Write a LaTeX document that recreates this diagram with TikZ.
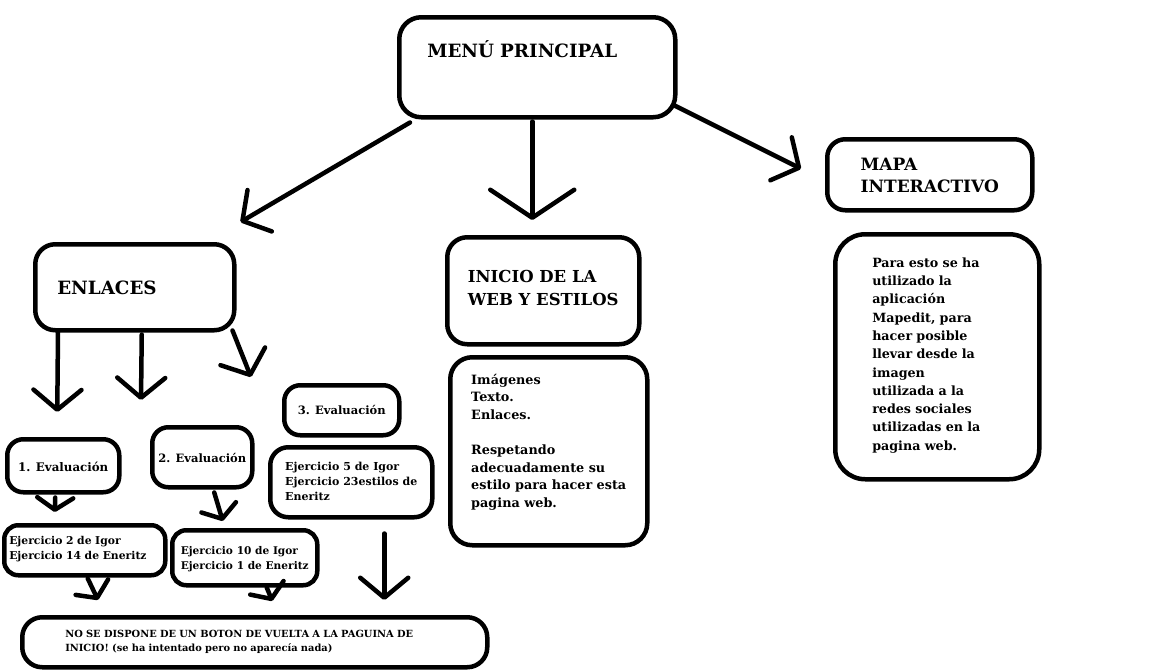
\documentclass[tikz,border=0pt]{standalone}
\usepackage{fontspec}
\setmainfont{DejaVu Serif}
\usetikzlibrary{arrows.meta}

\begin{document}
\begin{tikzpicture}[x=1pt, y=-1pt,
    caja/.style={draw, line width=4.5pt, rounded corners=16pt, inner sep=0pt, anchor=north west},
    flecha/.style={line width=4.5pt, line cap=round, -{Straight Barb[round, length=20pt, width=48pt]}},
    flechita/.style={line width=4.5pt, line cap=round, -{Straight Barb[round, length=12pt, width=36pt]}}]
    \useasboundingbox (0,0) rectangle (1154,672);
    \node[caja, rounded corners=22pt, text width=220pt, inner xsep=28pt, text height=40pt, text depth=60pt, font=\bfseries\fontsize{18.3}{23}\selectfont] (menu) at (397,15) {MENÚ PRINCIPAL};
    \node[caja, rounded corners=20pt, text width=155pt, inner xsep=22pt, text height=50pt, text depth=36pt, font=\bfseries\fontsize{18.3}{22}\selectfont] (enl) at (33,242) {ENLACES};
    \node[caja, rounded corners=20pt, minimum width=192pt, align=left, text height=68pt, text depth=39pt, font=\bfseries\fontsize{16.5}{23}\selectfont] (ini) at (445,235) {INICIO DE LA\\WEB Y ESTILOS};
    \node[caja, rounded corners=22pt, minimum width=197pt, align=left, text height=150pt, text depth=38pt, font=\bfseries\fontsize{12.8}{17.6}\selectfont] (inicont) at (448,355) {Imágenes\\Texto.\\Enlaces.\\[17.6pt]Respetando\\adecuadamente su\\estilo para hacer esta\\pagina web.};
    \node[caja, rounded corners=18pt, minimum width=205pt, align=left, text height=53pt, text depth=18pt, font=\bfseries\fontsize{17}{22}\selectfont] (mapa) at (825,137) {MAPA\\INTERACTIVO};
    \node[caja, rounded corners=30pt, text width=130pt, inner xsep=37pt, align=left, text height=33pt, text depth=212pt, font=\bfseries\fontsize{12.7}{18.3}\selectfont] (mapacont) at (833,232) {Para esto se ha\\utilizado la\\aplicación\\Mapedit, para\\hacer posible\\llevar desde la\\imagen\\utilizada a la\\redes sociales\\utilizadas en la\\pagina web.};
    \node[caja, minimum width=112pt, text height=32pt, text depth=21pt, font=\bfseries\fontsize{11.8}{14}\selectfont] (ev1) at (5,437) {1. Evaluación};
    \node[caja, minimum width=100pt, text height=35pt, text depth=25pt, font=\bfseries\fontsize{11.5}{14}\selectfont] (ev2) at (150,425) {2. Evaluación};
    \node[caja, minimum width=115pt, text height=29pt, text depth=21pt, font=\bfseries\fontsize{11.5}{14}\selectfont] (ev3) at (282,383) {3. Evaluación};
    \node[caja, rounded corners=18pt, minimum width=162pt, align=left, text height=53pt, text depth=17pt, font=\bfseries\fontsize{11}{15}\selectfont] (ej5) at (268,445) {Ejercicio 5 de Igor\\Ejercicio 23estilos de\\Eneritz};
    \node[caja, rounded corners=14pt, text width=151pt, inner xsep=5pt, align=left, text height=19pt, text depth=31pt, font=\bfseries\fontsize{10.8}{15}\selectfont] (ej2) at (2,523) {Ejercicio 2 de Igor\\Ejercicio 14 de Eneritz};
    \node[caja, rounded corners=14pt, minimum width=145pt, align=left, text height=39pt, text depth=16pt, font=\bfseries\fontsize{10.6}{15}\selectfont] (ej10) at (170,528) {Ejercicio 10 de Igor\\Ejercicio 1 de Eneritz};
    \node[caja, rounded corners=20pt, text width=379pt, inner xsep=43pt, align=left, text height=20pt, text depth=30pt, font=\bfseries\fontsize{9.85}{14}\selectfont] (bot) at (20,615) {NO SE DISPONE DE UN BOTON DE VUELTA A LA PAGUINA DE\\INICIO! (se ha intentado pero no aparecía nada)};

    \draw[flecha] ([shift={(13,3)}]menu.south west) -- ([shift={(4,-20)}]enl.north east);
    \draw[flecha, -{Straight Barb[round, length=28pt, width=84pt]}] ([shift={(-5,2)}]menu.south) -- ([shift={(-11,-15)}]ini.north);
    \draw[flecha] ([shift={(-3,-14)}]menu.south east) -- ([shift={(-24,-6)}]mapa.west);
    \draw[flecha] ([shift={(25,0)}]enl.south west) -- ([shift={(-6,-25)}]ev1.north);
    \draw[flecha] ([shift={(7,2)}]enl.south) -- ([shift={(-9,-25)}]ev2.north west);
    \draw[flecha] ([shift={(-4,-2)}]enl.south east) -- ([shift={(-31,-6)}]ev3.north west);
    \draw[flechita] ([shift={(-8,3)}]ev1.south) -- ([shift={(-30,-11)}]ej2.north);
    \draw[flechita] ([shift={(12,3)}]ev2.south) -- ([shift={(-22,-7)}]ej10.north);
    \draw[flecha] ([shift={(33,14)}]ej5.south) -- ([shift={(129.5,-15)}]bot.north);
    \draw[flechita] ([shift={(3,1)}]ej2.south) -- ([shift={(78,-15)}]bot.north west);
    \draw[flechita] ([shift={(22,0)}]ej10.south) -- ([shift={(17.5,-14)}]bot.north);
\end{tikzpicture}
\end{document}
